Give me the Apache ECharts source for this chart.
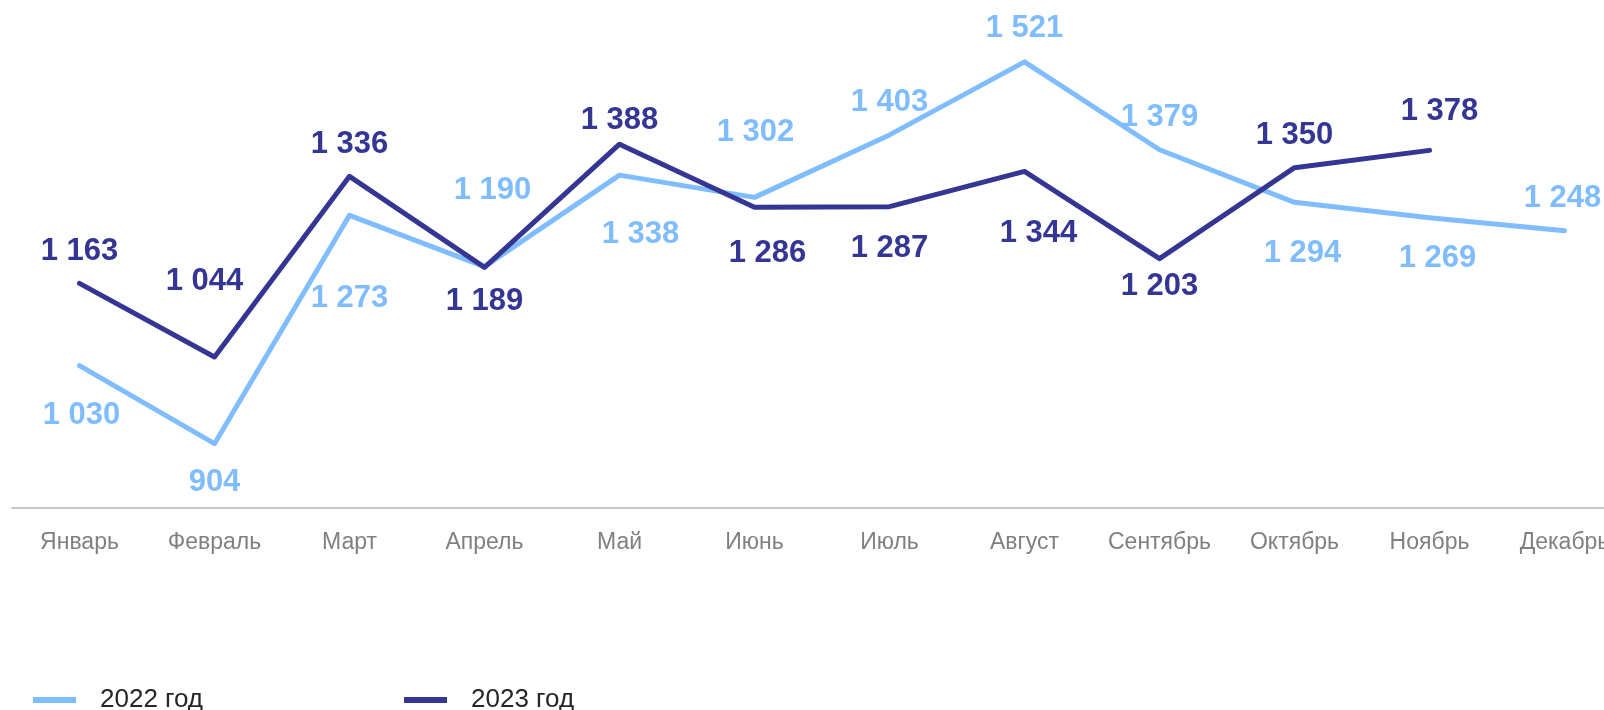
<!DOCTYPE html>
<html>
<head>
<meta charset="utf-8">
<script src="https://cdn.jsdelivr.net/npm/echarts@6/dist/echarts.min.js"></script>
<style>
  html, body { margin: 0; padding: 0; background: #fff; }
  #chart { width: 1604px; height: 710px; }
</style>
</head>
<body>
<div id="chart"></div>
<script>
var months = ['Январь', 'Февраль', 'Март', 'Апрель', 'Май', 'Июнь', 'Июль', 'Август', 'Сентябрь', 'Октябрь', 'Ноябрь', 'Декабрь'];
var values2022 = [1030, 904, 1273, 1190, 1338, 1302, 1403, 1521, 1379, 1294, 1269, 1248];
var values2023 = [1163, 1044, 1336, 1189, 1388, 1286, 1287, 1344, 1203, 1350, 1378, null];

// label offsets (px) from each point
var offs2022 = [[2, 50], [0, 39], [0, 83], [8, -76], [21, 59], [1, -65], [0, -32], [0, -33], [0, -32], [8, 51], [8, 41], [-2, -32]];
var offs2023 = [[0, -32], [-10, -76], [0, -32], [0, 34], [0, -24], [13, 46], [0, 42], [14, 62], [0, 28], [0, -32], [10, -39], [0, 0]];

var FONT = '"Liberation Sans", Arial, sans-serif';
var C22 = '#80bdff';
var C23 = '#353594';

function fmt(v) {
  return String(v).replace(/\B(?=(\d{3})+(?!\d))/g, ' ');
}

function build(vals, offs) {
  return vals.map(function (v, i) {
    return { value: v, label: { offset: offs[i] } };
  });
}

function lineSeries(name, vals, offs, color) {
  return {
    name: name,
    type: 'line',
    data: build(vals, offs),
    showSymbol: true,
    symbol: 'circle',
    symbolSize: 0.1,
    lineStyle: { color: color, width: 5, cap: 'round', join: 'round' },
    itemStyle: { color: color },
    label: {
      show: true,
      position: 'inside',
      color: color,
      fontFamily: FONT,
      fontWeight: 'bold',
      fontSize: 31,
      formatter: function (p) { return fmt(p.value); }
    }
  };
}

var chart = echarts.init(document.getElementById('chart'));
chart.setOption({
  animation: false,
  grid: { left: 12, top: 13, right: -28, height: 495, containLabel: false, outerBoundsMode: 'none' },
  legend: {
    left: 28,
    top: 682,
    icon: 'rect',
    itemWidth: 43,
    itemHeight: 6,
    itemGap: 201,
    textStyle: { fontFamily: FONT, fontSize: 26, color: '#262626', padding: [0, 0, 0, 19] },
    data: ['2022 год', '2023 год']
  },
  xAxis: {
    type: 'category',
    data: months,
    boundaryGap: true,
    axisLine: { lineStyle: { color: '#c8c8c8', width: 2 } },
    axisTick: { show: false },
    axisLabel: { fontFamily: FONT, fontSize: 23, color: '#808080', margin: 23, interval: 0 }
  },
  yAxis: {
    type: 'value',
    min: 800,
    max: 1600,
    show: false,
    splitLine: { show: false }
  },
  series: [
    lineSeries('2022 год', values2022, offs2022, C22),
    lineSeries('2023 год', values2023, offs2023, C23)
  ]
});
</script>
</body>
</html>
